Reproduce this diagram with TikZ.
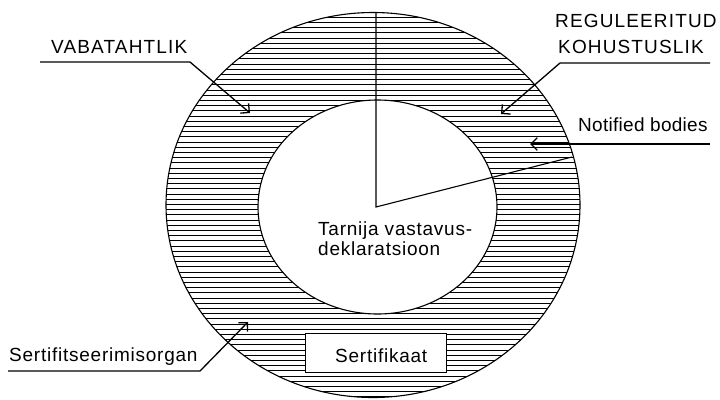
\documentclass[tikz,border=0pt]{standalone}
\usepackage{fontspec}
\setmainfont{Liberation Sans}[LetterSpace=4]
\newfontfamily\capsfont{Liberation Sans}[LetterSpace=6]
\newfontfamily\tightfont{Liberation Sans}[LetterSpace=1.5]
\usetikzlibrary{arrows.meta}
\begin{document}
\begin{tikzpicture}[x=1pt,y=-1pt,
  txt/.style={inner sep=0pt, anchor=base west, font=\fontsize{19}{20}\selectfont},
  capstxt/.style={txt, font=\fontsize{19}{20}\capsfont},
  tighttxt/.style={txt, font=\fontsize{19}{20}\tightfont},
  leader/.style={line width=1.3pt, -{Straight Barb[angle=90:9pt]}},
  rim/.style={line width=1.1pt},
  hatch/.style={line width=0.75pt}]
\useasboundingbox (0,0) rectangle (720,399);

% hatched ring between the two ellipses
\begin{scope}[even odd rule]
  \clip (373,205) ellipse [x radius=207, y radius=192.5]
        (377.5,207) ellipse [x radius=119.5, y radius=107];
  \foreach \k in {0,...,76}
    \draw[hatch] (160,12+\k*5.2) -- (590,12+\k*5.2);
\end{scope}
\draw[rim] (373,205) ellipse [x radius=207, y radius=192.5];
\draw[rim] (377.5,207) ellipse [x radius=119.5, y radius=107];

% sector lines from the centre
\coordinate (topPt) at (376,12.8);
\coordinate (ctr) at (376,207);
\coordinate (rimPt) at (572,157);
\draw[rim] (topPt) -- (ctr) -- (rimPt);

% certificate box
\node[draw, fill=white, line width=1pt, minimum width=141pt, minimum height=39pt] (certbox) at (375.5,352.5) {};
\node[txt] (cert) at (335,362) {Sertifikaat};

% centre text
\node[txt] (sup1) at (318,235) {Tarnija vastavus-};
\node[txt] (sup2) at (318,255) {deklaratsioon};

% labels
\node[capstxt] (vol) at (51,53) {VABATAHTLIK};
\node[capstxt] (reg1) at (555,27) {REGULEERITUD};
\node[capstxt] (reg2) at (558,53) {KOHUSTUSLIK};
\node[tighttxt] (nb) at (578,131) {Notified bodies};
\node[txt] (cb) at (9,361) {Sertifitseerimisorgan};

% leader lines
\coordinate (volA) at (40,62);
\coordinate (volB) at (190,62);
\coordinate (volC) at (250,113);
\draw[leader] (volA) -- (volB) -- (volC);

\coordinate (regA) at (710,63);
\coordinate (regB) at (560,63);
\coordinate (regC) at (501,114);
\draw[leader] (regA) -- (regB) -- (regC);

\coordinate (nbA) at (710,144);
\coordinate (nbC) at (530,144);
\draw[leader] (nbA) -- (nbC);

\coordinate (cbA) at (8,371);
\coordinate (cbB) at (200,371);
\coordinate (cbC) at (248,322);
\draw[leader] (cbA) -- (cbB) -- (cbC);
\end{tikzpicture}
\end{document}
